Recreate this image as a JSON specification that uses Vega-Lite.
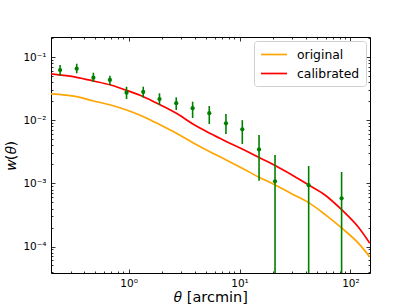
{
  "$schema": "https://vega.github.io/schema/vega-lite/v6.json",
  "autosize": "none",
  "width": 319,
  "height": 236,
  "padding": {"left": 51, "top": 37, "right": 41, "bottom": 35},
  "background": "white",
  "config": {
    "view": {"stroke": "#000000", "strokeWidth": 1},
    "font": "DejaVu Sans",
    "axis": {
      "grid": false,
      "domain": false,
      "tickColor": "#000000",
      "tickWidth": 0.8,
      "labelColor": "#000000",
      "labelFont": "DejaVu Sans",
      "labelFontSize": 10.5,
      "titleFont": "DejaVu Sans",
      "titleFontWeight": "normal",
      "titleColor": "#000000",
      "titleFontSize": 14.5
    }
  },
  "datasets": {
    "curves": [
      {"model": "calibrated", "theta": 0.2, "w": 0.0546},
      {"model": "calibrated", "theta": 0.3410, "w": 0.0482},
      {"model": "calibrated", "theta": 0.4847, "w": 0.04211},
      {"model": "calibrated", "theta": 0.6891, "w": 0.03639},
      {"model": "calibrated", "theta": 0.9594, "w": 0.02999},
      {"model": "calibrated", "theta": 1.364, "w": 0.02374},
      {"model": "calibrated", "theta": 1.939, "w": 0.01754},
      {"model": "calibrated", "theta": 2.700, "w": 0.01296},
      {"model": "calibrated", "theta": 3.837, "w": 0.00868},
      {"model": "calibrated", "theta": 5.455, "w": 0.006199},
      {"model": "calibrated", "theta": 7.437, "w": 0.00472},
      {"model": "calibrated", "theta": 10.58, "w": 0.003522},
      {"model": "calibrated", "theta": 15.03, "w": 0.002582},
      {"model": "calibrated", "theta": 20.93, "w": 0.001929},
      {"model": "calibrated", "theta": 29.75, "w": 0.001364},
      {"model": "calibrated", "theta": 42.03, "w": 0.000947},
      {"model": "calibrated", "theta": 58.88, "w": 0.000657},
      {"model": "calibrated", "theta": 83.72, "w": 0.000380},
      {"model": "calibrated", "theta": 116.6, "w": 0.000207},
      {"model": "calibrated", "theta": 149.4, "w": 0.0001128},
      {"model": "original", "theta": 0.2, "w": 0.0263},
      {"model": "original", "theta": 0.3410, "w": 0.02374},
      {"model": "original", "theta": 0.4847, "w": 0.02030},
      {"model": "original", "theta": 0.6891, "w": 0.01754},
      {"model": "original", "theta": 0.9594, "w": 0.01462},
      {"model": "original", "theta": 1.364, "w": 0.01145},
      {"model": "original", "theta": 1.939, "w": 0.00846},
      {"model": "original", "theta": 2.700, "w": 0.00625},
      {"model": "original", "theta": 3.837, "w": 0.004384},
      {"model": "original", "theta": 5.455, "w": 0.003155},
      {"model": "original", "theta": 7.437, "w": 0.002401},
      {"model": "original", "theta": 10.58, "w": 0.001741},
      {"model": "original", "theta": 15.03, "w": 0.001254},
      {"model": "original", "theta": 20.93, "w": 0.000947},
      {"model": "original", "theta": 29.75, "w": 0.000682},
      {"model": "original", "theta": 42.03, "w": 0.000496},
      {"model": "original", "theta": 58.88, "w": 0.000323},
      {"model": "original", "theta": 83.72, "w": 0.000195},
      {"model": "original", "theta": 116.6, "w": 0.0001153},
      {"model": "original", "theta": 149.4, "w": 0.0000684}
    ],
    "points": [
      {"theta": 0.2415, "w": 0.0629, "lo": 0.0511, "hi": 0.0755},
      {"theta": 0.341, "w": 0.0659, "lo": 0.0557, "hi": 0.0792},
      {"theta": 0.482, "w": 0.0475, "lo": 0.0406, "hi": 0.0570},
      {"theta": 0.679, "w": 0.0437, "lo": 0.0364, "hi": 0.0511},
      {"theta": 0.959, "w": 0.0275, "lo": 0.0218, "hi": 0.0342},
      {"theta": 1.356, "w": 0.0282, "lo": 0.0229, "hi": 0.0342},
      {"theta": 1.90, "w": 0.0218, "lo": 0.0175, "hi": 0.0269},
      {"theta": 2.69, "w": 0.0187, "lo": 0.0146, "hi": 0.0232},
      {"theta": 3.78, "w": 0.0156, "lo": 0.0109, "hi": 0.0198},
      {"theta": 5.34, "w": 0.0130, "lo": 0.00877, "hi": 0.0169},
      {"theta": 7.55, "w": 0.0090, "lo": 0.00608, "hi": 0.0126},
      {"theta": 10.6, "w": 0.00723, "lo": 0.00423, "hi": 0.0101},
      {"theta": 15.0, "w": 0.00346, "lo": 0.0011, "hi": 0.00587},
      {"theta": 20.9, "w": 0.00108, "lo": 0.0000001, "hi": 0.00283},
      {"theta": 42.0, "w": 0.000937, "lo": 0.0000001, "hi": 0.00189},
      {"theta": 83.2, "w": 0.000582, "lo": 0.0000001, "hi": 0.00152}
    ]
  },
  "layer": [
    {
      "data": {"name": "curves"},
      "mark": {"type": "line", "strokeWidth": 1.7, "clip": true, "interpolate": "monotone"},
      "encoding": {
        "x": {
          "field": "theta", "type": "quantitative",
          "scale": {"type": "log", "domain": [0.2, 150], "nice": false},
          "axis": {
            "orient": "bottom",
            "title": "𝜃 [arcmin]",
            "titleY": 28,
            "titleBaseline": "alphabetic",
            "values": [0.2,0.3,0.4,0.5,0.6,0.7,0.8,0.9,1,2,3,4,5,6,7,8,9,10,20,30,40,50,60,70,80,90,100],
            "tickSize": {"condition": {"test": "datum.value == 1 || datum.value == 10 || datum.value == 100", "value": -4}, "value": -2},
            "labelPadding": 9,
            "labelFlush": false,
            "labelOverlap": false,
            "labelExpr": "datum.value == 1 ? '10⁰' : datum.value == 10 ? '10¹' : datum.value == 100 ? '10²' : ''"
          }
        },
        "y": {
          "field": "w", "type": "quantitative",
          "scale": {"type": "log", "domain": [0.000038, 0.21], "nice": false},
          "axis": {
            "orient": "left",
            "title": "𝑤(𝜃)",
            "titleX": -36,
            "titleBaseline": "alphabetic",
            "values": [0.00004,0.00005,0.00006,0.00007,0.00008,0.00009,0.0001,0.0002,0.0003,0.0004,0.0005,0.0006,0.0007,0.0008,0.0009,0.001,0.002,0.003,0.004,0.005,0.006,0.007,0.008,0.009,0.01,0.02,0.03,0.04,0.05,0.06,0.07,0.08,0.09,0.1,0.2],
            "tickSize": {"condition": {"test": "datum.value == 0.1 || datum.value == 0.01 || datum.value == 0.001 || datum.value == 0.0001", "value": -4}, "value": -2},
            "labelPadding": 9,
            "labelFlush": false,
            "labelOverlap": false,
            "labelExpr": "datum.value == 0.1 ? '10⁻¹' : datum.value == 0.01 ? '10⁻²' : datum.value == 0.001 ? '10⁻³' : datum.value == 0.0001 ? '10⁻⁴' : ''"
          }
        },
        "color": {
          "field": "model", "type": "nominal",
          "scale": {"domain": ["original", "calibrated"], "range": ["#FFA500", "#FF0000"]},
          "legend": {
            "title": null,
            "orient": "top-right",
            "offset": 4,
            "padding": 6,
            "cornerRadius": 3,
            "strokeColor": "#d0d0d0",
            "fillColor": "#ffffff",
            "symbolType": "M-1,0L3,0",
            "symbolSize": 169,
            "symbolStrokeWidth": 1.7,
            "labelFont": "DejaVu Sans",
            "labelFontSize": 12.4,
            "labelColor": "#000000",
            "labelOffset": 22,
            "rowPadding": 5
          }
        }
      }
    },
    {
      "data": {"name": "points"},
      "mark": {"type": "rule", "color": "#008000", "strokeWidth": 1.6, "clip": true},
      "encoding": {
        "x": {
          "field": "theta", "type": "quantitative",
          "scale": {"type": "log", "domain": [0.2, 150], "nice": false},
          "axis": {
            "orient": "top",
            "title": null,
            "labels": false,
            "values": [0.2,0.3,0.4,0.5,0.6,0.7,0.8,0.9,1,2,3,4,5,6,7,8,9,10,20,30,40,50,60,70,80,90,100],
            "tickSize": {"condition": {"test": "datum.value == 1 || datum.value == 10 || datum.value == 100", "value": -4}, "value": -2}
          }
        },
        "y": {
          "field": "lo", "type": "quantitative",
          "scale": {"type": "log", "domain": [0.000038, 0.21], "nice": false},
          "axis": {
            "orient": "right",
            "title": null,
            "labels": false,
            "values": [0.00004,0.00005,0.00006,0.00007,0.00008,0.00009,0.0001,0.0002,0.0003,0.0004,0.0005,0.0006,0.0007,0.0008,0.0009,0.001,0.002,0.003,0.004,0.005,0.006,0.007,0.008,0.009,0.01,0.02,0.03,0.04,0.05,0.06,0.07,0.08,0.09,0.1,0.2],
            "tickSize": {"condition": {"test": "datum.value == 0.1 || datum.value == 0.01 || datum.value == 0.001 || datum.value == 0.0001", "value": -4}, "value": -2}
          }
        },
        "y2": {"field": "hi"}
      }
    },
    {
      "data": {"name": "points"},
      "mark": {"type": "point", "shape": "circle", "filled": true, "color": "#008000", "size": 18, "opacity": 1, "clip": true},
      "encoding": {
        "x": {"field": "theta", "type": "quantitative", "scale": {"type": "log", "domain": [0.2, 150], "nice": false}, "axis": null},
        "y": {"field": "w", "type": "quantitative", "scale": {"type": "log", "domain": [0.000038, 0.21], "nice": false}, "axis": null}
      }
    }
  ],
  "resolve": {"axis": {"x": "independent", "y": "independent"}}
}
